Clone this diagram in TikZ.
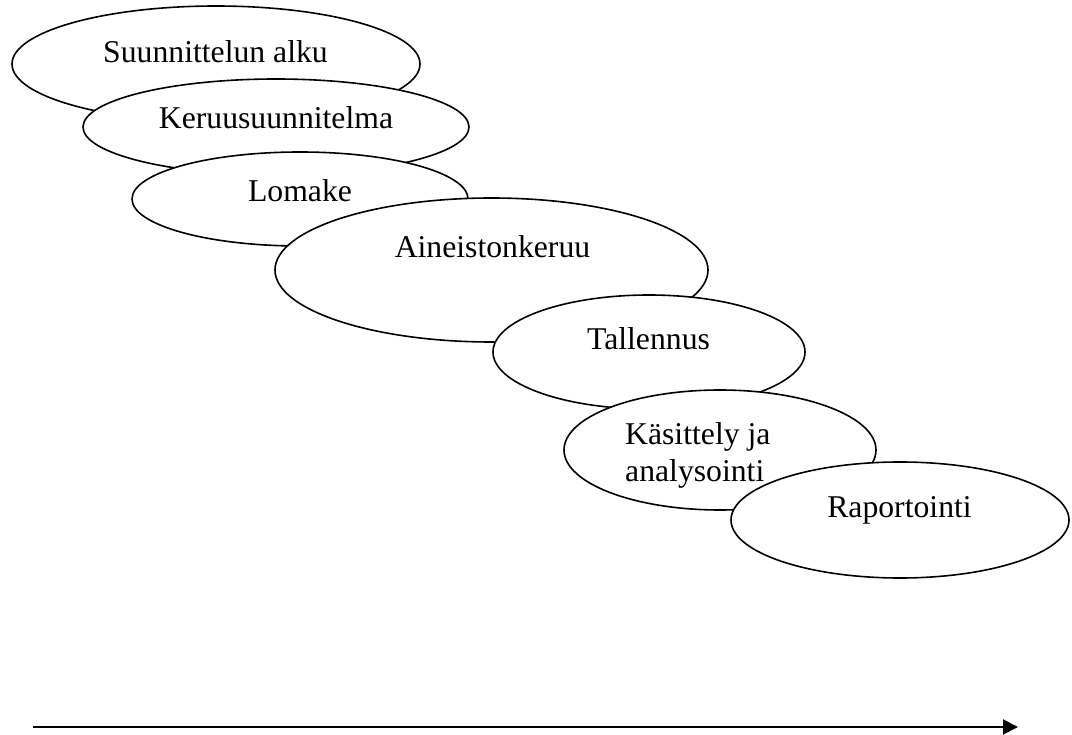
\documentclass[tikz,border=0pt]{standalone}
\usepackage{fontspec}
\setmainfont{Liberation Serif}
\usetikzlibrary{shapes.geometric,arrows.meta}
\begin{document}
\begin{tikzpicture}[x=1pt,y=-1pt,
  oval/.style={ellipse,draw=black,fill=white,line width=1.6pt,inner sep=0pt},
  lbl/.style={anchor=base,inner sep=0pt,font=\fontsize{31.7}{37}\selectfont},
  lbll/.style={anchor=base west,inner sep=0pt,font=\fontsize{31.7}{37}\selectfont},
  timeline/.style={line width=2pt,-{Triangle[length=15pt,width=15pt]}}]
\useasboundingbox (0,0) rectangle (1072,735);
\node[oval,minimum width=408pt,minimum height=116pt] (e1) at (216,64) {};
\node[oval,minimum width=386pt,minimum height=96pt] (e2) at (276,127) {};
\node[oval,minimum width=336pt,minimum height=94pt] (e3) at (300,199) {};
\node[oval,minimum width=433pt,minimum height=144pt] (e4) at (491.5,270) {};
\node[oval,minimum width=312pt,minimum height=114pt] (e5) at (649,352) {};
\node[oval,minimum width=312pt,minimum height=120pt] (e6) at (720,450) {};
\node[oval,minimum width=338pt,minimum height=116pt] (e7) at (900,520) {};
\node[lbl] (t1) at (215.5,63) {Suunnittelun alku};
\node[lbl] (t2) at (276,129) {Keruusuunnitelma};
\node[lbl] (t3) at (300,202) {Lomake};
\node[lbl] (t4) at (492.5,258) {Aineistonkeruu};
\node[lbl] (t5) at (648.5,350) {Tallennus};
\node[lbll] (t6a) at (625,445) {Käsittely ja};
\node[lbll] (t6b) at (625,482) {analysointi};
\node[lbl] (t7) at (899.5,518) {Raportointi};
\coordinate (a0) at (33,727);
\coordinate (a1) at (1018,727);
\draw[timeline] (a0) -- (a1);
\end{tikzpicture}
\end{document}
